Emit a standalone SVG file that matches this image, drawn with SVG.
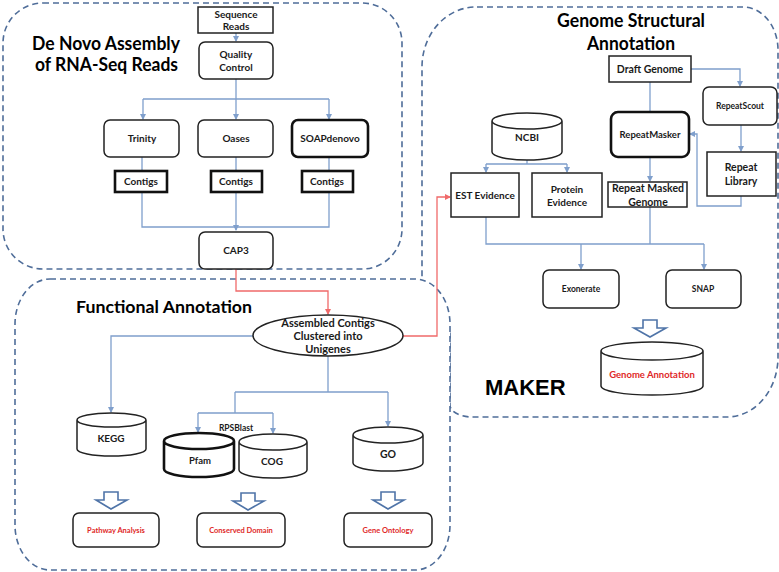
<svg xmlns="http://www.w3.org/2000/svg" width="779" height="572" viewBox="0 0 779 572">
<style>
.bg{fill:#fff}
.grp{fill:none;stroke:#4f6d99;stroke-width:1.6;stroke-dasharray:6,4}
.grpw{fill:#fff;stroke:#4f6d99;stroke-width:1.6;stroke-dasharray:6,4}
.box{fill:#fff;stroke:#222;stroke-width:1.5}
.thick{fill:#fff;stroke:#111;stroke-width:2.6}
.cyl{fill:#fff;stroke:#222;stroke-width:1.5}
.blue{fill:none;stroke:#7f9fcc;stroke-width:1.3}
.red{fill:none;stroke:#f06a6a;stroke-width:1.3}
.hollow{fill:#fff;stroke:#4f74a8;stroke-width:1.6;stroke-linejoin:miter}
text{font-family:Lato,"Open Sans","DejaVu Sans",sans-serif;font-weight:bold;fill:#1a1a1a;text-anchor:middle}
.t{font-size:10px}
.s{font-size:8.5px}
.title{font-size:18px;fill:#000;text-anchor:start}
.rt{fill:#e02828}
.maker{font-family:"Liberation Sans",Arial,sans-serif;font-size:22px;fill:#000;text-anchor:start}
</style>
<defs>
<marker id="ab" markerWidth="6" markerHeight="6" refX="5" refY="3" orient="auto" markerUnits="userSpaceOnUse"><path d="M0,0 L6,3 L0,6 Z" fill="#7f9fcc"/></marker>
<marker id="ar" markerWidth="6" markerHeight="6" refX="5" refY="3" orient="auto" markerUnits="userSpaceOnUse"><path d="M0,0 L6,3 L0,6 Z" fill="#f06a6a"/></marker>
</defs>
<rect class="bg" x="0" y="0" width="779" height="572"/>

<g id="group-denovo">
<rect class="grp" x="3" y="3" width="399" height="266" rx="40" ry="40"/>
<text class="title" x="32" y="50" textLength="148" lengthAdjust="spacingAndGlyphs">De Novo Assembly</text>
<text class="title" x="35" y="71" textLength="143" lengthAdjust="spacingAndGlyphs">of RNA-Seq Reads</text>
</g>
<g id="group-structural">
<path class="grp" d="M477,7 H743 A35,43 0 0 1 778,50 V357 A51,60 0 0 1 727,417 H472 A22,12 0 0 1 450,405 V330 L422,282 V67 A54,60 0 0 1 477,7 Z"/>
<text class="title" x="557" y="27" textLength="148" lengthAdjust="spacingAndGlyphs">Genome Structural</text>
<text class="title" x="587" y="50" textLength="88" lengthAdjust="spacingAndGlyphs">Annotation</text>
<text class="maker" x="485" y="395">MAKER</text>
</g>
<g id="group-functional">
<rect class="grpw" x="15" y="279" width="435" height="291" rx="35" ry="45"/>
<text class="title" x="76" y="313" textLength="176" lengthAdjust="spacingAndGlyphs" style="font-size:17px">Functional  Annotation</text>
</g>

<g id="connectors">
<path class="blue" d="M236,33 V41" marker-end="url(#ab)"/>
<path class="blue" d="M236,79 V99 M143,99 H329"/>
<path class="blue" d="M143,99 V119" marker-end="url(#ab)"/>
<path class="blue" d="M236,99 V119" marker-end="url(#ab)"/>
<path class="blue" d="M329,99 V119" marker-end="url(#ab)"/>
<path class="blue" d="M142,157 V171 M236,157 V171 M329,157 V171"/>
<path class="blue" d="M142,192 V227 H329 V192"/>
<path class="blue" d="M236,192 V230" marker-end="url(#ab)"/>
<path class="red" d="M236,269 V291 H328 V314" marker-end="url(#ar)"/>
<path class="red" d="M403,336 H437 V197 H450" marker-end="url(#ar)"/>
<path class="blue" d="M650,82 V112"/>
<path class="blue" d="M691,69 H740 V86" marker-end="url(#ab)"/>
<path class="blue" d="M741,125 V151" marker-end="url(#ab)"/>
<path class="blue" d="M741,196 V206 H697 V134 H690" marker-end="url(#ab)"/>
<path class="blue" d="M650,157 V181" marker-end="url(#ab)"/>
<path class="blue" d="M527,160 V164 M486,164 H567"/>
<path class="blue" d="M486,164 V172" marker-end="url(#ab)"/>
<path class="blue" d="M567,164 V172" marker-end="url(#ab)"/>
<path class="blue" d="M486,217 V244 H704 M650,207 V244"/>
<path class="blue" d="M581,244 V269" marker-end="url(#ab)"/>
<path class="blue" d="M704,244 V269" marker-end="url(#ab)"/>
<path class="blue" d="M253,336 H111 V412" marker-end="url(#ab)"/>
<path class="blue" d="M328,356 V392 M235,392 H388"/>
<path class="blue" d="M388,392 V426" marker-end="url(#ab)"/>
<path class="blue" d="M235,392 V413 M198,413 H273"/>
<path class="blue" d="M198,413 V432" marker-end="url(#ab)"/>
<path class="blue" d="M273,413 V433" marker-end="url(#ab)"/>
<path class="hollow" d="M104,492 H118 V500 H127 L111,509 L96,500 H104 Z"/>
<path class="hollow" d="M241,493 H255 V501 H264 L248,510 L233,501 H241 Z"/>
<path class="hollow" d="M381,492 H395 V500 H404 L388,509 L373,500 H381 Z"/>
<path class="hollow" d="M643,320 H657 V328 H666 L650,337 L634,328 H643 Z"/>
</g>

<g id="n-seqreads"><rect class="box" x="198" y="7" width="75" height="26"/><text class="t" x="236" y="18">Sequence</text><text class="t" x="236" y="30">Reads</text></g>
<g id="n-qc"><rect class="box" x="199" y="42" width="74" height="37" rx="6"/><text class="t" x="236" y="58">Quality</text><text class="t" x="236" y="71">Control</text></g>
<g id="n-trinity"><rect class="box" x="104" y="120" width="75" height="37" rx="6"/><text class="t" x="142" y="142">Trinity</text></g>
<g id="n-oases"><rect class="box" x="198" y="120" width="75" height="37" rx="6"/><text class="t" x="236" y="142">Oases</text></g>
<g id="n-soap"><rect class="thick" x="292" y="120" width="76" height="37" rx="6"/><text class="t" x="330" y="142" style="font-size:10px">SOAPdenovo</text></g>
<g id="n-contigs1"><rect class="thick" x="115" y="171" width="52" height="21"/><text class="t" x="141" y="185">Contigs</text></g>
<g id="n-contigs2"><rect class="thick" x="211" y="171" width="51" height="21"/><text class="t" x="236" y="185">Contigs</text></g>
<g id="n-contigs3"><rect class="thick" x="302" y="171" width="51" height="21"/><text class="t" x="327" y="185">Contigs</text></g>
<g id="n-cap3"><rect class="box" x="199" y="232" width="74" height="37" rx="6"/><text class="t" x="236" y="254">CAP3</text></g>

<g id="n-draft"><rect class="box" x="609" y="56" width="82" height="26"/><text class="t" x="650" y="73" style="font-size:10.5px">Draft Genome</text></g>
<g id="n-repeatscout"><rect class="box" x="703" y="87" width="74" height="38" rx="6"/><text class="s" x="740" y="109">RepeatScout</text></g>
<g id="n-repeatmasker"><rect class="thick" x="611" y="112" width="78" height="45" rx="7"/><text class="t" x="650" y="138" style="font-size:9.5px">RepeatMasker</text></g>
<g id="n-replib"><rect class="box" x="707" y="152" width="69" height="44"/><text class="t" x="741" y="171" style="font-size:10.5px">Repeat</text><text class="t" x="741" y="185" style="font-size:10.5px">Library</text></g>
<g id="n-masked"><rect class="box" x="608" y="182" width="79" height="25"/><text class="t" x="648" y="192" style="font-size:10.5px">Repeat Masked</text><text class="t" x="648" y="206" style="font-size:10.5px">Genome</text></g>
<g id="n-ncbi"><path class="cyl" d="M492,121 A35,8 0 0 1 562,121 V152 A35,8 0 0 1 492,152 Z M492,121 A35,8 0 0 0 562,121"/><text class="t" x="527" y="141">NCBI</text></g>
<g id="n-est"><rect class="box" x="451" y="173" width="68" height="44"/><text class="t" x="485" y="199">EST Evidence</text></g>
<g id="n-protein"><rect class="box" x="532" y="173" width="70" height="44"/><text class="t" x="567" y="193">Protein</text><text class="t" x="567" y="206">Evidence</text></g>
<g id="n-exonerate"><rect class="box" x="543" y="270" width="76" height="38" rx="6"/><text class="s" x="581" y="292">Exonerate</text></g>
<g id="n-snap"><rect class="box" x="666" y="270" width="75" height="38" rx="6"/><text class="s" x="703" y="292">SNAP</text></g>
<g id="n-genomeann"><path class="cyl" d="M601,351 A51,9 0 0 1 703,351 V386 A51,9 0 0 1 601,386 Z M601,351 A51,9 0 0 0 703,351"/><text class="rt" x="652" y="378" style="font-size:9.5px">Genome Annotation</text></g>

<g id="n-unigenes"><ellipse class="box" cx="328" cy="335.5" rx="75" ry="20.5"/><text class="t" x="328" y="327" style="font-size:11px">Assembled Contigs</text><text class="t" x="328" y="340" style="font-size:11px">Clustered into</text><text class="t" x="328" y="353" style="font-size:11px">Unigenes</text></g>
<g id="n-kegg"><path class="cyl" d="M77,420 A34.5,7 0 0 1 146,420 V449 A34.5,7 0 0 1 77,449 Z M77,420 A34.5,7 0 0 0 146,420"/><text class="t" x="111" y="442">KEGG</text></g>
<g id="n-pfam"><path class="thick" d="M164,441 A35,8 0 0 1 234,441 V469 A35,8 0 0 1 164,469 Z M164,441 A35,8 0 0 0 234,441"/><text class="t" x="200" y="464" style="font-size:9.5px">Pfam</text></g>
<g id="n-cog"><path class="cyl" d="M239,442 A34,8 0 0 1 307,442 V470 A34,8 0 0 1 239,470 Z M239,442 A34,8 0 0 0 307,442"/><text class="t" x="272" y="465">COG</text></g>
<g id="n-go"><path class="cyl" d="M353,435 A35,8 0 0 1 423,435 V463 A35,8 0 0 1 353,463 Z M353,435 A35,8 0 0 0 423,435"/><text class="t" x="388" y="458" style="font-size:10.5px">GO</text></g>
<text class="s" x="236" y="431">RPSBlast</text>
<g id="n-pathway"><rect class="box" x="73" y="513" width="86" height="34" rx="6"/><text class="rt" x="116" y="533" style="font-size:7.5px">Pathway  Analysis</text></g>
<g id="n-conserved"><rect class="box" x="197" y="513" width="88" height="34" rx="6"/><text class="rt" x="241" y="533" style="font-size:7.5px">Conserved  Domain</text></g>
<g id="n-geneont"><rect class="box" x="344" y="513" width="88" height="34" rx="6"/><text class="rt" x="388" y="533" style="font-size:7.5px">Gene  Ontology</text></g>
</svg>
